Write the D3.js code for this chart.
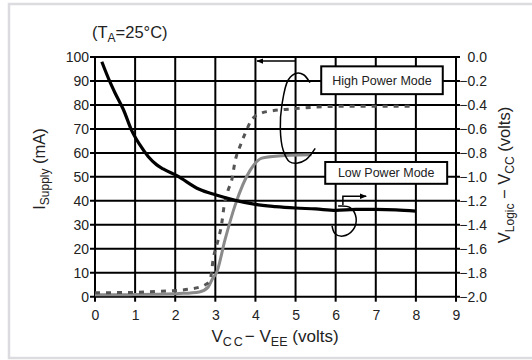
<!DOCTYPE html>
<html>
<head>
<meta charset="utf-8">
<script src="https://cdn.jsdelivr.net/npm/d3@7"></script>
<style>
  body { margin: 0; background: #fff; }
  svg { display: block; }
  text { font-family: "Liberation Sans", Arial, sans-serif; fill: #222; }
</style>
</head>
<body>
<svg width="532" height="360"></svg>
<script>
// supply current, black solid (left axis, mA)
var supplyX = [0.17, 0.37, 0.5, 0.71, 0.91, 1.12, 1.33, 1.54, 1.7, 2.04, 2.6, 3.0, 3.5, 4.0, 4.5, 5.0, 5.5, 6.0, 6.5, 7.0, 7.5, 8.0];
var supplyY = [98, 89.7, 85, 78, 69.5, 63.3, 58.4, 55, 53.3, 50.5, 44.8, 42.5, 40.2, 38.5, 37.6, 37, 36.6, 36, 36.4, 36.4, 36.2, 35.7];

// low power mode, gray solid
var lowX = [0, 0.5, 1.0, 1.5, 2.1, 2.6, 2.82, 2.94, 3.03, 3.24, 3.49, 3.87, 4.16, 4.5, 4.86, 5.4];
var lowY = [0.8, 0.8, 0.9, 1.0, 1.3, 2.0, 4.0, 7.8, 10, 23.7, 38, 52.8, 57.8, 58.6, 59, 59.2];

// high power mode, dashed
var highX = [0, 0.5, 1.0, 1.37, 1.79, 2.37, 2.74, 2.87, 2.95, 3.07, 3.16, 3.22, 3.32, 3.41, 3.49, 3.63, 3.78, 3.9, 4.15, 4.4, 4.87, 5.4, 6.0, 7.0, 7.86];
var highY = [1.7, 1.7, 1.8, 2.1, 2.4, 3.2, 4.9, 7, 16, 23.7, 30.6, 38, 44.5, 48.7, 56.3, 63.4, 69.5, 73.7, 76.6, 77.5, 78.3, 79, 79.4, 79.5, 79.5];

var xTicks = [0, 1, 2, 3, 4, 5, 6, 7, 8, 9];
var leftTicks = [0, 10, 20, 30, 40, 50, 60, 70, 80, 90, 100];
var rightTicks = [-2.0, -1.8, -1.6, -1.4, -1.2, -1.0, -0.8, -0.6, -0.4, -0.2, 0.0];

// hand drawn marks, in data units of the left axis
var loopTop = [[5.36, 89.3], [5.2, 92.6], [5.03, 93.2], [4.82, 90.5], [4.66, 80], [4.62, 70], [4.69, 61.2], [4.85, 56.3], [5.03, 55.7], [5.26, 57.2], [5.49, 61.9]];
var loopLow = [[6.06, 37.8], [6.36, 37.2], [6.51, 32.8], [6.43, 27.8], [6.18, 25.3], [5.98, 26.4], [5.91, 29.5]];
var arrowLeft = [[5.0, 98.3], [4.04, 98.3]];
var arrowRight = [[6.18, 38.3], [6.18, 41.9], [6.76, 41.9]];

var svg = d3.select("svg");

var x = d3.scaleLinear().domain([0, 9]).range([95, 456]);
var y = d3.scaleLinear().domain([0, 100]).range([296.7, 57]);
var y2 = d3.scaleLinear().domain([-2, 0]).range([296.7, 57]);

// outer panel
svg.append("rect")
    .attr("x", 9).attr("y", 4)
    .attr("width", 540).attr("height", 354)
    .attr("fill", "none")
    .attr("stroke", "#dcdce0")
    .attr("stroke-width", 2.5);

svg.append("defs").append("marker")
    .attr("id", "arr")
    .attr("viewBox", "0 -5 10 10")
    .attr("refX", 9).attr("refY", 0)
    .attr("markerWidth", 7).attr("markerHeight", 7)
    .attr("markerUnits", "userSpaceOnUse")
    .attr("orient", "auto")
  .append("path")
    .attr("d", "M0,-4L10,0L0,4Z")
    .attr("fill", "#000");

// grid
var grid = svg.append("g").attr("stroke", "#000").attr("stroke-width", 2);
grid.selectAll("line.v").data(xTicks).join("line")
    .attr("x1", d => x(d)).attr("x2", d => x(d))
    .attr("y1", y(100)).attr("y2", y(0) + 5);
grid.selectAll("line.h").data(leftTicks).join("line")
    .attr("x1", x(0) - 5).attr("x2", x(9) + 4)
    .attr("y1", d => y(d)).attr("y2", d => y(d));

// axes (labels only, lines drawn above)
var fmt2 = d => (d < 0 ? "\u2212" : "") + Math.abs(d).toFixed(1);

svg.append("g")
    .attr("transform", "translate(" + (x(0) - 5) + ",0)")
    .call(d3.axisLeft(y).tickValues(leftTicks).tickSize(0).tickPadding(1))
    .call(g => g.select(".domain").remove())
    .selectAll("text").attr("font-size", 14).attr("fill", "#222");

svg.append("g")
    .attr("transform", "translate(487,0)")
    .call(d3.axisLeft(y2).tickValues(rightTicks).tickSize(0).tickPadding(0).tickFormat(fmt2))
    .call(g => g.select(".domain").remove())
    .selectAll("text").attr("font-size", 14).attr("fill", "#222");

svg.append("g")
    .attr("transform", "translate(0," + (y(0) + 5) + ")")
    .call(d3.axisBottom(x).tickValues(xTicks).tickSize(0).tickPadding(8))
    .call(g => g.select(".domain").remove())
    .selectAll("text").attr("font-size", 14).attr("fill", "#222");

svg.selectAll(".tick text").style("font-family", "'Liberation Sans', Arial, sans-serif");

// curves
var line = d3.line().x(d => x(d[0])).y(d => y(d[1])).curve(d3.curveMonotoneX);

svg.append("path")
    .datum(lowX.map((v, i) => [v, lowY[i]]))
    .attr("d", line)
    .attr("fill", "none")
    .attr("stroke", "#8a8a8a")
    .attr("stroke-width", 3);

svg.append("path")
    .datum(highX.map((v, i) => [v, highY[i]]))
    .attr("d", line)
    .attr("fill", "none")
    .attr("stroke", "#555")
    .attr("stroke-width", 3)
    .attr("stroke-dasharray", "5,6");

svg.append("path")
    .datum(supplyX.map((v, i) => [v, supplyY[i]]))
    .attr("d", d3.line().x(d => x(d[0])).y(d => y(d[1])).curve(d3.curveMonotoneX))
    .attr("fill", "none")
    .attr("stroke", "#000")
    .attr("stroke-width", 3.2);

// hand drawn loops and arrows
var free = d3.line().x(d => x(d[0])).y(d => y(d[1])).curve(d3.curveCatmullRom);
svg.append("path").datum(loopTop).attr("d", free)
    .attr("fill", "none").attr("stroke", "#000").attr("stroke-width", 1.5);
svg.append("path").datum(loopLow).attr("d", free)
    .attr("fill", "none").attr("stroke", "#000").attr("stroke-width", 1.5);
svg.append("path").datum(arrowLeft).attr("d", d3.line().x(d => x(d[0])).y(d => y(d[1])))
    .attr("fill", "none").attr("stroke", "#000").attr("stroke-width", 1.5)
    .attr("marker-end", "url(#arr)");
svg.append("path").datum(arrowRight).attr("d", d3.line().x(d => x(d[0])).y(d => y(d[1])))
    .attr("fill", "none").attr("stroke", "#000").attr("stroke-width", 1.5)
    .attr("marker-end", "url(#arr)");

// legend boxes
function box(x0, x1, yTop, yBot, label) {
  svg.append("rect")
      .attr("x", x(x0)).attr("y", y(yTop))
      .attr("width", x(x1) - x(x0)).attr("height", y(yBot) - y(yTop))
      .attr("fill", "#fff").attr("stroke", "#000").attr("stroke-width", 2);
  svg.append("text")
      .attr("x", (x(x0) + x(x1)) / 2).attr("y", (y(yTop) + y(yBot)) / 2 + 4.5)
      .attr("text-anchor", "middle")
      .attr("font-size", 12.5)
      .text(label);
}
box(5.64, 8.67, 96.1, 84.5, "High Power Mode");
box(5.74, 8.78, 56.2, 47.1, "Low Power Mode");

// titles
var t = svg.append("text").attr("x", 92).attr("y", 38).attr("font-size", 16.5);
t.append("tspan").text("(T");
t.append("tspan").attr("font-size", 12).attr("dy", 4).text("A");
t.append("tspan").attr("dy", -4).text("=25\u00b0C)");

var yl = svg.append("text")
    .attr("transform", "translate(45,169) rotate(-90)")
    .attr("text-anchor", "middle")
    .attr("font-size", 16.5);
yl.append("tspan").text("I");
yl.append("tspan").attr("font-size", 12).attr("dy", 4).text("Supply");
yl.append("tspan").attr("dy", -4).text(" (mA)");

var yr = svg.append("text")
    .attr("transform", "translate(510,175) rotate(-90)")
    .attr("text-anchor", "middle")
    .attr("font-size", 16.5);
yr.append("tspan").text("V");
yr.append("tspan").attr("font-size", 12).attr("dy", 4).text("Logic");
yr.append("tspan").attr("dy", -4).text(" \u2212 V");
yr.append("tspan").attr("font-size", 12).attr("dy", 4).text("CC");
yr.append("tspan").attr("dy", -4).text(" (volts)");

var xl = svg.append("text")
    .attr("x", 275).attr("y", 342)
    .attr("text-anchor", "middle")
    .attr("font-size", 17);
xl.append("tspan").text("V");
xl.append("tspan").attr("font-size", 12.5).attr("dy", 4).attr("letter-spacing", 2).text("CC");
xl.append("tspan").attr("dy", -4).text("\u2212 V");
xl.append("tspan").attr("font-size", 12.5).attr("dy", 4).text("EE");
xl.append("tspan").attr("dy", -4).text(" (volts)");
</script>
</body>
</html>
